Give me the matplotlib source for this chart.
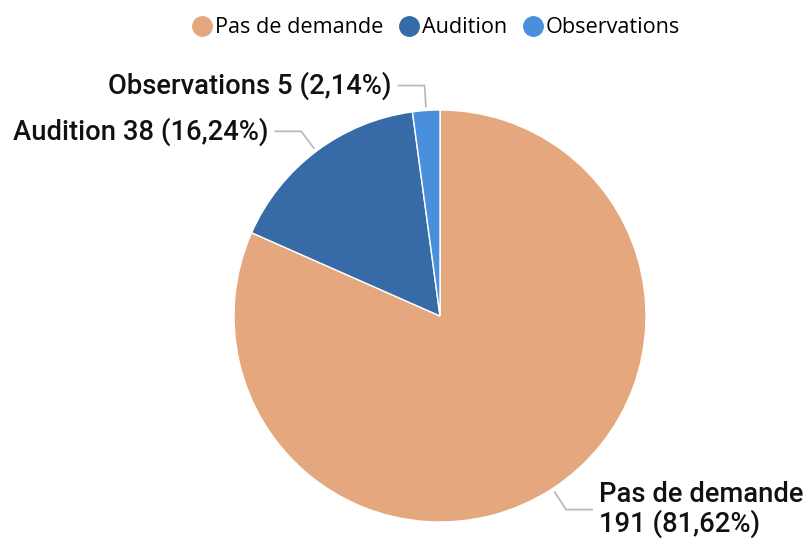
import numpy as np
import matplotlib.pyplot as plt
from matplotlib.lines import Line2D

categories = ["Pas de demande", "Audition", "Observations"]
counts = [191, 38, 5]
colors = ["#E5A77E", "#376BA8", "#4A8FDC"]

W, H = 812, 539
fig = plt.figure(figsize=(W / 100, H / 100), dpi=100)
ax = fig.add_axes([0, 0, 1, 1])

cx, cy, r = 440, 539 - 316, 206
wedges, _ = ax.pie(counts, colors=colors, startangle=90, counterclock=False,
                   center=(cx, cy), radius=r, frame=True,
                   wedgeprops=dict(edgecolor="white", linewidth=1))
ax.set_xlim(0, W)
ax.set_ylim(0, H)
ax.set_aspect("equal")
ax.axis("off")

total = sum(counts)
label_font = dict(family=["Roboto", "DejaVu Sans"], weight="medium", size=19.7, color="#111111")

for w, name, n in zip(wedges, categories, counts):
    ang = np.deg2rad((w.theta1 + w.theta2) / 2)
    u = np.array([np.cos(ang), np.sin(ang)])
    p0 = np.array([cx, cy]) + (r + 4) * u
    p1 = np.array([cx, cy]) + (r + 25) * u
    side = 1 if u[0] > 0 else -1
    p2 = p1 + np.array([side * 26, 0])
    ax.plot([p0[0], p1[0], p2[0]], [p0[1], p1[1], p2[1]], color="#BBBBBB", lw=1.3,
            solid_joinstyle="miter")
    pct = f"{n / total * 100:.2f}".replace(".", ",")
    if side > 0:
        txt = f"{name}\n{n} ({pct}%)"
        ax.text(p2[0] + 7, p2[1], txt, ha="left", va="center", linespacing=1.05, **label_font)
    else:
        txt = f"{name} {n} ({pct}%)"
        ax.text(p2[0] - 7, p2[1], txt, ha="right", va="center", **label_font)

handles = [Line2D([], [], marker="o", linestyle="", markersize=14,
                  markerfacecolor=c, markeredgecolor=c) for c in colors]
fig.legend(handles, categories, loc="center", bbox_to_anchor=(0.535, 1 - 28 / H),
           ncol=3, frameon=False, handletextpad=0.0, columnspacing=0.6,
           handlelength=1.2, prop=dict(family=["Open Sans", "DejaVu Sans"], size=15.6))

fig.savefig("out.png", dpi=100)
